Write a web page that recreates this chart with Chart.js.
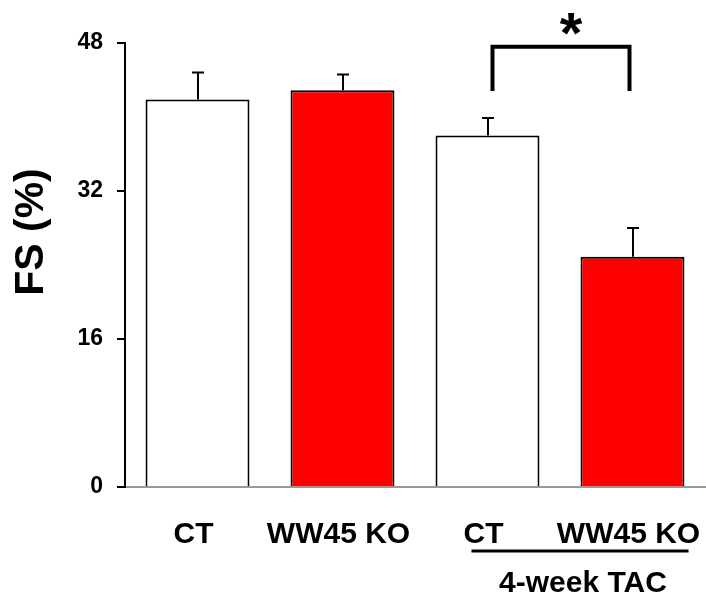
<!DOCTYPE html>
<html><head><meta charset="utf-8">
<script src="https://cdn.jsdelivr.net/npm/chart.js@4/dist/chart.umd.min.js"></script>
<style>html,body{margin:0;padding:0;background:#fff;} #wrap{width:706px;height:602px;position:relative}</style>
</head><body><div id="wrap"><canvas id="c" width="706" height="602"></canvas></div>
<script>
const categories = ['CT', 'WW45 KO', 'CT', 'WW45 KO'];
const fsValues = [41.9, 42.9, 38.0, 24.9];
const fsErrors = [2.9, 1.7, 1.9, 3.1];
const barColors = ['#ffffff', '#ff0000', '#ffffff', '#ff0000'];
const yTickValues = [0, 16, 32, 48];
const groupLabel = '4-week TAC';
const groupMembers = [2, 3];
const yTitle = 'FS (%)';
const sigPair = [2, 3];
const sigBracket = [47.6, 42.8];
const sigMark = '*';

const FONT = '"Liberation Sans", Arial, Helvetica, sans-serif';
Chart.defaults.font.family = FONT;
Chart.defaults.color = '#000';

const errorBars = {
  id: 'errorBars',
  afterDatasetsDraw(chart) {
    const ctx = chart.ctx, y = chart.scales.y, meta = chart.getDatasetMeta(0);
    ctx.save();
    ctx.strokeStyle = '#000';
    ctx.lineWidth = 2;
    meta.data.forEach((bar, i) => {
      const v = fsValues[i], e = fsErrors[i];
      const yb = y.getPixelForValue(v), yt = y.getPixelForValue(v + e);
      const x = Math.round(bar.x);
      ctx.beginPath();
      ctx.moveTo(x, yb); ctx.lineTo(x, yt);
      ctx.moveTo(x - 6, yt); ctx.lineTo(x + 6, yt);
      ctx.stroke();
    });
    ctx.restore();
  }
};

const extras = {
  id: 'extras',
  afterDraw(chart) {
    const ctx = chart.ctx, x = chart.scales.x, y = chart.scales.y;
    ctx.save();
    // significance bracket
    const xl = x.getPixelForValue(sigPair[0]) + 5, xr = x.getPixelForValue(sigPair[1]) - 3;
    const yt = y.getPixelForValue(sigBracket[0]), yb = y.getPixelForValue(sigBracket[1]);
    ctx.strokeStyle = '#000';
    ctx.lineWidth = 4;
    ctx.lineCap = 'butt';
    ctx.lineJoin = 'miter';
    ctx.beginPath();
    ctx.moveTo(xl, yb); ctx.lineTo(xl, yt); ctx.lineTo(xr, yt); ctx.lineTo(xr, yb);
    ctx.stroke();
    ctx.fillStyle = '#000';
    ctx.font = 'bold 58px ' + FONT;
    ctx.textAlign = 'center';
    ctx.textBaseline = 'alphabetic';
    ctx.fillText(sigMark, (xl + xr) / 2 + 10, yt + 6);
    // group underline and label
    const gl = x.getPixelForValue(groupMembers[0]) - 16, gr = x.getPixelForValue(groupMembers[1]) + 56;
    const uy = chart.chartArea.bottom + 64;
    ctx.lineWidth = 3;
    ctx.beginPath();
    ctx.moveTo(gl, uy); ctx.lineTo(gr, uy);
    ctx.stroke();
    ctx.font = 'bold 30px ' + FONT;
    ctx.fillText(groupLabel, (gl + gr) / 2 + 3, uy + 41);
    // y title
    ctx.translate(43, (chart.chartArea.top + chart.chartArea.bottom) / 2 - 33);
    ctx.rotate(-Math.PI / 2);
    ctx.font = 'bold 41px ' + FONT;
    ctx.fillText(yTitle, 0, 0);
    ctx.restore();
  }
};

new Chart(document.getElementById('c'), {
  type: 'bar',
  data: {
    labels: categories,
    datasets: [{
      data: fsValues,
      backgroundColor: barColors,
      borderColor: '#000',
      borderWidth: 2,
      borderSkipped: 'start',
      categoryPercentage: 1,
      barPercentage: 0.717
    }]
  },
  options: {
    responsive: false,
    animation: false,
    devicePixelRatio: 1,
    layout: { padding: { top: 43, right: 1, bottom: 0, left: 0 } },
    plugins: { legend: { display: false }, tooltip: { enabled: false } },
    scales: {
      x: {
        offset: true,
        grid: { display: false },
        border: { display: true, color: '#999', width: 2 },
        ticks: { color: '#000', font: { size: 30, weight: 'bold' }, padding: 22, labelOffset: -4, maxRotation: 0, autoSkip: false },
        afterFit(s) { s.height = 115; s.paddingLeft = 0; s.paddingRight = 0; }
      },
      y: {
        min: 0, max: 48,
        afterBuildTicks(s) { s.ticks = yTickValues.map(v => ({ value: v })); },
        grid: { drawOnChartArea: false, drawTicks: true, tickLength: 8, color: '#000', lineWidth: 2 },
        border: { display: true, color: '#000', width: 2 },
        ticks: { color: '#000', font: { size: 23, weight: 'bold' }, padding: 14 },
        afterFit(s) { s.width = 125; s.paddingTop = 0; s.paddingBottom = 0; }
      }
    }
  },
  plugins: [errorBars, extras]
});
</script>
</body></html>
